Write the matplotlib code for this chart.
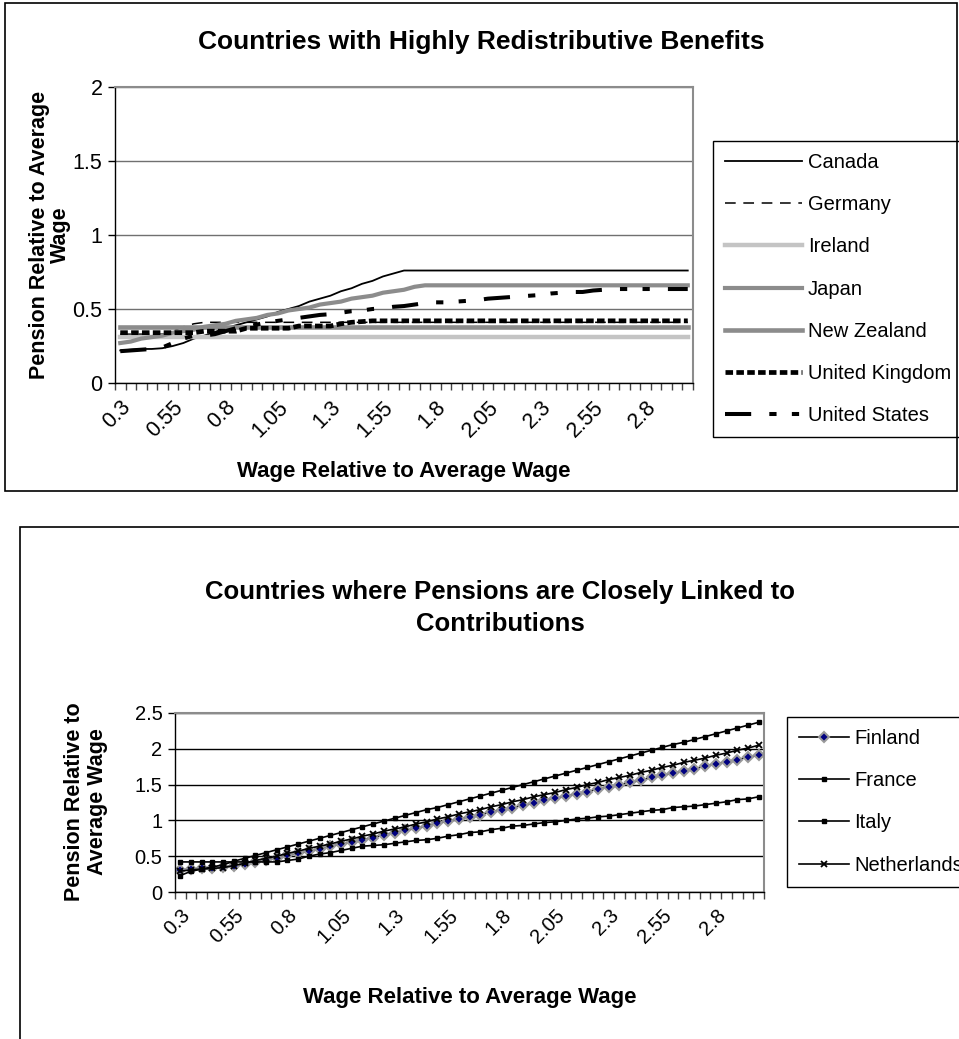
import numpy as np
import matplotlib
matplotlib.use('Agg')
import matplotlib.pyplot as plt
from matplotlib.patches import Rectangle

plt.rcParams['font.family'] = ['Liberation Sans', 'DejaVu Sans']

# categories (wage relative to average wage)
wage = [0.3, 0.35, 0.4, 0.45, 0.5, 0.55, 0.6, 0.65, 0.7, 0.75,
        0.8, 0.85, 0.9, 0.95, 1.0, 1.05, 1.1, 1.15, 1.2, 1.25,
        1.3, 1.35, 1.4, 1.45, 1.5, 1.55, 1.6, 1.65, 1.7, 1.75,
        1.8, 1.85, 1.9, 1.95, 2.0, 2.05, 2.1, 2.15, 2.2, 2.25,
        2.3, 2.35, 2.4, 2.45, 2.5, 2.55, 2.6, 2.65, 2.7, 2.75,
        2.8, 2.85, 2.9, 2.95, 3.0]

# --- top chart: highly redistributive ---
canada = [0.22, 0.225, 0.23, 0.23, 0.235, 0.25, 0.27, 0.30, 0.32, 0.345,
          0.37, 0.39, 0.41, 0.43, 0.45, 0.48, 0.50, 0.52, 0.55, 0.57,
          0.59, 0.62, 0.64, 0.67, 0.69, 0.72, 0.74, 0.76] + [0.76] * 27
germany = [0.33, 0.33, 0.33, 0.33, 0.33, 0.35, 0.38, 0.40] + [0.41] * 47
ireland = [0.31] * 55
japan = [0.27, 0.28, 0.30, 0.31, 0.32, 0.34, 0.35, 0.36, 0.38, 0.39,
         0.40, 0.42, 0.43, 0.44, 0.46, 0.47, 0.49, 0.50, 0.51, 0.53,
         0.54, 0.55, 0.57, 0.58, 0.59, 0.61, 0.62, 0.63, 0.65, 0.66] + [0.66] * 25
new_zealand = [0.38] * 55
uk = [0.34] * 8 + [0.35] * 4 + [0.37] * 5 + [0.385] * 4 + [0.40, 0.41, 0.415] + [0.42] * 31
us = [0.215, 0.22, 0.225, 0.23, 0.24, 0.27, 0.30, 0.32, 0.32, 0.33,
      0.35, 0.37, 0.38, 0.395, 0.41, 0.42, 0.43, 0.44, 0.45, 0.46,
      0.465, 0.475, 0.485, 0.49, 0.50, 0.505, 0.515, 0.52, 0.53, 0.54,
      0.545, 0.545, 0.55, 0.555, 0.56, 0.57, 0.575, 0.58, 0.585, 0.59,
      0.595, 0.605, 0.61, 0.615, 0.615, 0.625, 0.63, 0.635] + [0.635] * 7

# --- bottom chart: closely linked to contributions ---
finland = [0.31, 0.32, 0.33, 0.34, 0.35, 0.37, 0.39, 0.42, 0.45, 0.48,
           0.51, 0.54, 0.57, 0.60, 0.64, 0.67, 0.70, 0.73, 0.76, 0.80,
           0.83, 0.86, 0.89, 0.92, 0.96, 0.99, 1.02, 1.05, 1.08, 1.12,
           1.15, 1.18, 1.21, 1.24, 1.28, 1.31, 1.34, 1.37, 1.40, 1.44,
           1.47, 1.50, 1.53, 1.56, 1.60, 1.63, 1.66, 1.69, 1.72, 1.76,
           1.79, 1.82, 1.85, 1.88, 1.91]
france = [0.42] * 10 + [
          0.44, 0.46, 0.50, 0.53, 0.55, 0.58, 0.61, 0.64, 0.65, 0.66,
          0.68, 0.70, 0.72, 0.73, 0.75, 0.78, 0.80, 0.83, 0.84, 0.87,
          0.89, 0.92, 0.93, 0.95, 0.97, 0.98, 1.00, 1.02, 1.03, 1.05,
          1.06, 1.08, 1.10, 1.12, 1.14, 1.15, 1.18, 1.19, 1.20, 1.22,
          1.24, 1.26, 1.29, 1.30, 1.33]
italy = [0.23, 0.29, 0.32, 0.35, 0.38, 0.43, 0.47, 0.51, 0.55, 0.59,
         0.63, 0.67, 0.71, 0.75, 0.79, 0.83, 0.87, 0.91, 0.95, 0.99,
         1.03, 1.07, 1.11, 1.15, 1.18, 1.22, 1.26, 1.30, 1.34, 1.38,
         1.42, 1.46, 1.50, 1.54, 1.58, 1.62, 1.66, 1.70, 1.74, 1.78,
         1.82, 1.86, 1.90, 1.94, 1.98, 2.02, 2.06, 2.09, 2.13, 2.17,
         2.21, 2.25, 2.29, 2.33, 2.37]
netherlands = [0.29, 0.31, 0.32, 0.33, 0.34, 0.37, 0.40, 0.44, 0.47, 0.50,
               0.54, 0.57, 0.61, 0.64, 0.67, 0.71, 0.74, 0.78, 0.81, 0.85,
               0.88, 0.91, 0.95, 0.98, 1.02, 1.05, 1.09, 1.12, 1.15, 1.19,
               1.22, 1.26, 1.29, 1.33, 1.36, 1.39, 1.43, 1.46, 1.50, 1.53,
               1.57, 1.60, 1.63, 1.67, 1.70, 1.74, 1.77, 1.81, 1.84, 1.87,
               1.91, 1.94, 1.98, 2.01, 2.05]

W, H = 959, 1039
fig = plt.figure(figsize=(W / 100, H / 100), dpi=100)


def fx(px):
    return px / W


def fy(py):
    return 1 - py / H


x = np.arange(len(wage))
lab_pos = x[::5]
lab_txt = ['%g' % w for w in wage[::5]]


def style_axes(ax, ymax, ystep, gridcol, fs):
    ax.set_xlim(-0.5, len(wage) - 0.5)
    ax.set_ylim(0, ymax)
    ax.set_yticks(np.arange(0, ymax + 0.01, ystep))
    ax.set_yticklabels(['%g' % v for v in np.arange(0, ymax + 0.01, ystep)])
    ax.yaxis.grid(True, color=gridcol, lw=1.0)
    ax.set_axisbelow(True)
    ax.set_xticks(lab_pos)
    ax.set_xticklabels(lab_txt, rotation=45, ha='right', va='top',
                       rotation_mode='anchor')
    ax.set_xticks(np.arange(-0.5, len(wage), 1.0), minor=True)
    ax.tick_params(axis='x', which='major', length=0, pad=10, labelsize=fs)
    ax.tick_params(axis='x', which='minor', length=5, width=1, color='#444444')
    ax.tick_params(axis='y', length=5, width=1, labelsize=fs, pad=4)
    for s in ['top', 'right']:
        ax.spines[s].set_color('#8c8c8c')
        ax.spines[s].set_linewidth(1.5)
    for s in ['left', 'bottom']:
        ax.spines[s].set_color('black')
        ax.spines[s].set_linewidth(1.0)


# top chart
ax1 = fig.add_axes([fx(115), fy(383), fx(693) - fx(115), fy(87) - fy(383)])
style_axes(ax1, 2, 0.5, '#707070', 15.5)
ax1.plot(x, canada, color='black', lw=1.3, label='Canada')
ax1.plot(x, germany, color='black', lw=1.1, ls=(0, (7, 5)), label='Germany')
ax1.plot(x, ireland, color='#c4c4c4', lw=3.2, label='Ireland')
ax1.plot(x, japan, color='#8c8c8c', lw=3.0, label='Japan')
ax1.plot(x, new_zealand, color='#8c8c8c', lw=3.3, label='New Zealand')
ax1.plot(x, uk, color='black', lw=3.4, ls=(0, (1.6, 0.7)), label='United Kingdom')
ax1.plot(x, us, color='black', lw=2.9, ls=(0, (6.5, 4.5, 1.8, 3.8, 1.8, 4.5)),
         label='United States')
leg1 = ax1.legend(loc='upper left', bbox_to_anchor=(fx(713), fy(141)),
                  bbox_transform=fig.transFigure, borderaxespad=0,
                  fontsize=14.5, handlelength=3.8, handletextpad=0.3,
                  labelspacing=1.15, borderpad=0.6, fancybox=False,
                  framealpha=1, edgecolor='black')
leg1.get_frame().set_linewidth(1.0)

fig.text(fx(481), fy(42), 'Countries with Highly Redistributive Benefits',
         ha='center', va='center', fontsize=19, fontweight='bold')
fig.text(fx(404), fy(472), 'Wage Relative to Average Wage',
         ha='center', va='center', fontsize=16, fontweight='bold')
fig.text(fx(50), fy(235), 'Pension Relative to Average\nWage', rotation=90,
         ha='center', va='center', fontsize=15.5, fontweight='bold',
         linespacing=1.05)

# bottom chart
ax2 = fig.add_axes([fx(175), fy(892), fx(764) - fx(175), fy(713) - fy(892)])
style_axes(ax2, 2.5, 0.5, 'black', 14.5)
ax2.plot(x, finland, color='black', lw=1.2, marker='D', ms=5.5,
         mfc='#000080', mec='#9a9a9a', mew=1.5, label='Finland')
ax2.plot(x, france, color='black', lw=1.2, marker='s', ms=2.8,
         mfc='black', mec='black', label='France')
ax2.plot(x, italy, color='black', lw=1.2, marker='s', ms=2.8,
         mfc='black', mec='black', label='Italy')
ax2.plot(x, netherlands, color='black', lw=1.2, marker='x', ms=4.5,
         mew=1.3, label='Netherlands')
leg2 = ax2.legend(loc='upper left', bbox_to_anchor=(fx(787), fy(717)),
                  bbox_transform=fig.transFigure, borderaxespad=0,
                  fontsize=14.5, handlelength=2.5, handletextpad=0.25,
                  labelspacing=1.15, borderpad=0.6, fancybox=False,
                  framealpha=1, edgecolor='black')
leg2.get_frame().set_linewidth(1.0)

fig.text(fx(500), fy(608), 'Countries where Pensions are Closely Linked to\nContributions',
         ha='center', va='center', fontsize=18.5, fontweight='bold', linespacing=1.4)
fig.text(fx(470), fy(997), 'Wage Relative to Average Wage',
         ha='center', va='center', fontsize=16, fontweight='bold')
fig.text(fx(86), fy(802), 'Pension Relative to\nAverage Wage', rotation=90,
         ha='center', va='center', fontsize=15.5, fontweight='bold',
         linespacing=1.1)

# chart area borders
fig.add_artist(Rectangle((fx(5), fy(491)), fx(957) - fx(5), fy(3) - fy(491),
                         transform=fig.transFigure, fill=False, ec='black', lw=1.2))
fig.add_artist(Rectangle((fx(20), -0.05), 2, fy(527) + 0.05,
                         transform=fig.transFigure, fill=False, ec='black', lw=1.2))

fig.savefig('out.png', dpi=100)
